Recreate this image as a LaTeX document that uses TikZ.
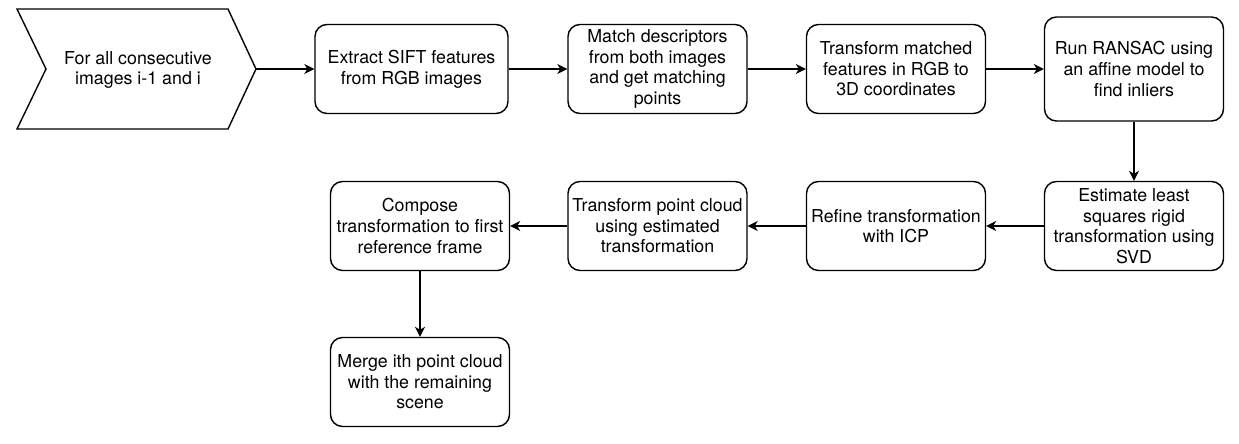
\documentclass[tikz,border=0pt]{standalone}
\usepackage{fontspec}
\setmainfont{TeX Gyre Heros}
\usetikzlibrary{arrows.meta}
\begin{document}
\begin{tikzpicture}[x=0.5pt,y=-0.5pt,
  every node/.style={font=\fontsize{8.9}{10.3}\selectfont, align=center},
  stage/.style={draw, rounded corners=6pt, line width=0.7pt, minimum width=89.5pt, minimum height=44.5pt, inner sep=0pt},
  flow/.style={-{Stealth[length=5pt,width=5pt,inset=1.5pt]}, line width=0.7pt}]
\useasboundingbox (0,0) rectangle (1239,444);
\draw [line width=0.7pt] (17,9) -- (228,9) -- (256,69) -- (228,129) -- (17,129) -- (46,69) -- cycle;
\coordinate (tip) at (256,69);
\node (start) at (138,70) {For all consecutive\\images i-1 and i};
\node [stage, minimum width=96.5pt] (sift) at (411.5,69) {Extract SIFT features\\from RGB images};
\node [stage] (match) at (657.5,69) {Match descriptors\\from both images\\and get matching\\points};
\node [stage] (to3d) at (896,69) {Transform matched\\features in RGB to\\3D coordinates};
\node [stage, minimum height=52pt] (ransac) at (1134,69) {Run RANSAC using\\an affine model to\\find inliers};
\node [stage] (svd) at (1134,226) {Estimate least\\squares rigid\\transformation using\\SVD};
\node [stage] (icp) at (896,226) {Refine transformation\\with ICP};
\node [stage] (apply) at (657.5,226) {Transform point cloud\\using estimated\\transformation};
\node [stage] (compose) at (420,226) {Compose\\transformation to first\\reference frame};
\node [stage] (merge) at (420,382) {Merge ith point cloud\\with the remaining\\scene};
\draw [flow] (tip) -- (sift);
\draw [flow] (sift) -- (match);
\draw [flow] (match) -- (to3d);
\draw [flow] (to3d) -- (ransac);
\draw [flow] (ransac) -- (svd);
\draw [flow] (svd) -- (icp);
\draw [flow] (icp) -- (apply);
\draw [flow] (apply) -- (compose);
\draw [flow] (compose) -- (merge);
\end{tikzpicture}
\end{document}
